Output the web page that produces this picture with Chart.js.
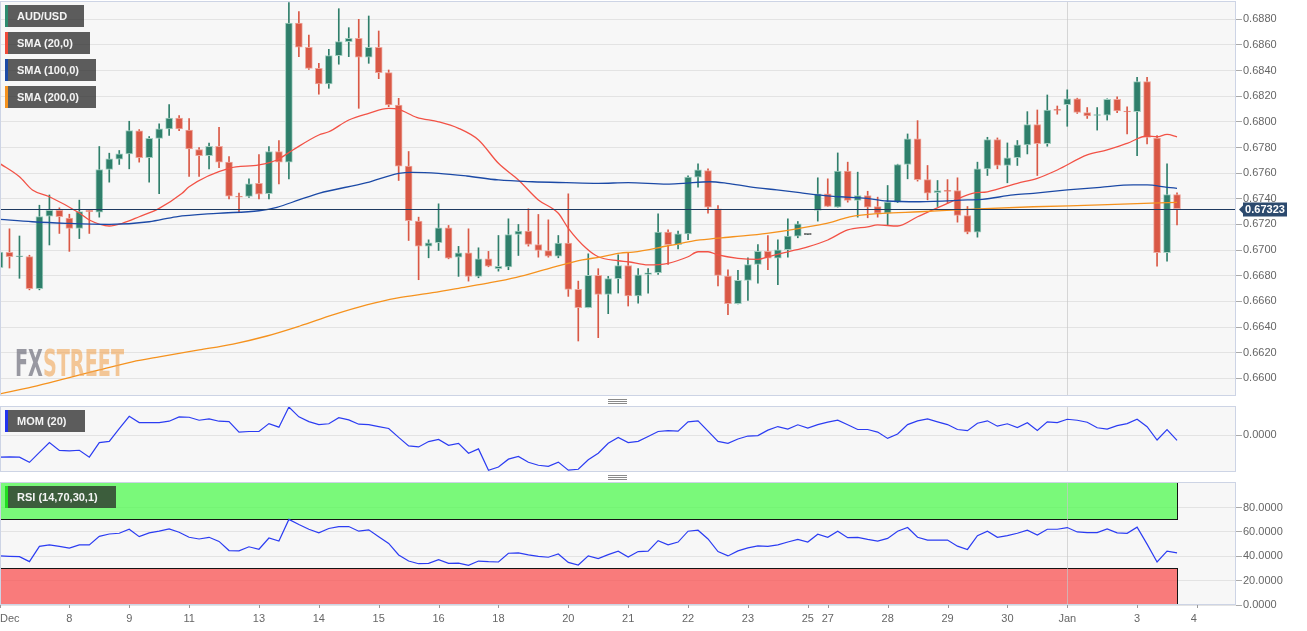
<!DOCTYPE html>
<html lang="en">
<head>
<meta charset="utf-8">
<title>AUD/USD</title>
<script src="https://cdn.jsdelivr.net/npm/chart.js@4.4.1/dist/chart.umd.min.js"></script>
<style>
  html, body { margin: 0; padding: 0; background: #fff; }
  body { position: relative; width: 1307px; height: 631px; overflow: hidden; font-family: "Liberation Sans", Arial, sans-serif; }
  canvas { position: absolute; left: 0; }
  #main { top: 0; }
  #mom { top: 400px; }
  #rsi { top: 476px; }
  .tag { position: absolute; left: 5px; height: 22px; line-height: 22px; box-sizing: border-box;
         padding-left: 9px; border-left: 3px solid; background: rgba(40,40,40,0.75);
         color: #f4f4f4; font-size: 11px; font-weight: bold; white-space: nowrap; pointer-events: none; }
  .grip { position: absolute; left: 608px; width: 19px; height: 5px;
          background: repeating-linear-gradient(#8a8a8a 0 1px, transparent 1px 2px); }
  #wm { position: absolute; left: 15px; top: 345px; font: bold 37px "Liberation Sans Narrow", "DejaVu Sans Condensed", sans-serif;
        line-height: 1; white-space: nowrap; transform-origin: 0 0; pointer-events: none; }
  #wm .fx { color: rgba(120,120,132,0.75); }
  #wm .st { color: rgba(240,165,85,0.6); }
</style>
</head>
<body>
<canvas id="main" width="1307" height="400"></canvas>
<canvas id="mom" width="1307" height="76"></canvas>
<canvas id="rsi" width="1307" height="155"></canvas>
<div class="grip" style="top:399px"></div>
<div class="grip" style="top:475px"></div>
<div id="wm"><span class="fx">FX</span><span class="st">STREET</span></div>
<div class="tag" style="top:5px;width:79px;border-color:#2e8b6e">AUD/USD</div>
<div class="tag" style="top:32px;width:85px;border-color:#f04a3a">SMA (20,0)</div>
<div class="tag" style="top:59px;width:91px;border-color:#1c4aa6">SMA (100,0)</div>
<div class="tag" style="top:86px;width:91px;border-color:#f5921e">SMA (200,0)</div>
<div class="tag" style="top:410px;width:80px;border-color:#2233ee">MOM (20)</div>
<div class="tag" style="top:486px;width:111px;border-color:#22dd22">RSI (14,70,30,1)</div>

<script>
// 4h candles, index 0..118
const opens = [
  0.66862, 0.66982, 0.66948, 0.66950, 0.66700, 0.67265, 0.67310, 0.67250, 0.67170, 0.67310,
  0.67296, 0.67629, 0.67710, 0.67750, 0.67930, 0.67720, 0.67872, 0.67945, 0.68030, 0.67937,
  0.67784, 0.67737, 0.67810, 0.67686, 0.67420, 0.67418, 0.67520, 0.67440, 0.67769, 0.67686,
  0.68770, 0.68582, 0.68418, 0.68296, 0.68517, 0.68626, 0.68652, 0.68504, 0.68582, 0.68384,
  0.68132, 0.67655, 0.67226, 0.67030, 0.67057, 0.67174, 0.66945, 0.66979, 0.66795, 0.66932,
  0.66855, 0.66868, 0.67122, 0.67148, 0.67044, 0.66997, 0.66953, 0.67055, 0.66694, 0.66550,
  0.66803, 0.66655, 0.66777, 0.66880, 0.66642, 0.66810, 0.66823, 0.67140, 0.67042, 0.67127,
  0.67569, 0.67621, 0.67322, 0.66797, 0.66582, 0.66764, 0.66888, 0.66990, 0.66938, 0.67003,
  0.67109, 0.67122, 0.67309, 0.67439, 0.67335, 0.67616, 0.67387, 0.67426, 0.67340, 0.67288,
  0.67374, 0.67668, 0.67868, 0.67550, 0.67448, 0.67462, 0.67465, 0.67270, 0.67140, 0.67634,
  0.67862, 0.67660, 0.67720, 0.67821, 0.67979, 0.67830, 0.68095, 0.68135, 0.68180, 0.68073,
  0.68050, 0.68053, 0.68177, 0.68081, 0.68079, 0.68314, 0.67873, 0.66979, 0.67434
];
const highs = [
  0.67020, 0.67166, 0.67110, 0.66960, 0.67350, 0.67430, 0.67330, 0.67280, 0.67390, 0.67315,
  0.67808, 0.67756, 0.67777, 0.68005, 0.67940, 0.67886, 0.67984, 0.68135, 0.68050, 0.68025,
  0.67800, 0.67834, 0.67958, 0.67730, 0.67444, 0.67556, 0.67745, 0.67808, 0.67855, 0.68930,
  0.68860, 0.68678, 0.68457, 0.68566, 0.68883, 0.68735, 0.68800, 0.68826, 0.68709, 0.68405,
  0.68184, 0.67769, 0.67257, 0.67080, 0.67361, 0.67192, 0.67029, 0.67166, 0.67018, 0.66990,
  0.67114, 0.67244, 0.67200, 0.67322, 0.67278, 0.67236, 0.67114, 0.67439, 0.66758, 0.66971,
  0.66855, 0.66795, 0.66963, 0.66979, 0.66855, 0.66855, 0.67283, 0.67158, 0.67148, 0.67580,
  0.67673, 0.67634, 0.67348, 0.66847, 0.66842, 0.66940, 0.67044, 0.67114, 0.67080, 0.67244,
  0.67223, 0.67122, 0.67564, 0.67556, 0.67758, 0.67686, 0.67608, 0.67459, 0.67413, 0.67504,
  0.67670, 0.67906, 0.68010, 0.67660, 0.67543, 0.67550, 0.67564, 0.67340, 0.67686, 0.67880,
  0.67875, 0.67836, 0.67855, 0.68080, 0.68093, 0.68210, 0.68124, 0.68250, 0.68185, 0.68112,
  0.68112, 0.68180, 0.68195, 0.68117, 0.68348, 0.68348, 0.67893, 0.67673, 0.67447
];
const lows = [
  0.66830, 0.66860, 0.66780, 0.66690, 0.66690, 0.67040, 0.67130, 0.66990, 0.67090, 0.67130,
  0.67257, 0.67530, 0.67668, 0.67634, 0.67686, 0.67530, 0.67440, 0.67894, 0.67932, 0.67574,
  0.67574, 0.67634, 0.67642, 0.67400, 0.67300, 0.67410, 0.67400, 0.67400, 0.67517, 0.67556,
  0.68509, 0.68410, 0.68216, 0.68262, 0.68450, 0.68509, 0.68106, 0.68457, 0.68337, 0.68119,
  0.67543, 0.67075, 0.66769, 0.66940, 0.66997, 0.66932, 0.66795, 0.66758, 0.66784, 0.66870,
  0.66836, 0.66847, 0.66958, 0.67031, 0.66945, 0.66945, 0.66940, 0.66639, 0.66291, 0.66550,
  0.66317, 0.66504, 0.66665, 0.66564, 0.66587, 0.66665, 0.66810, 0.66888, 0.67010, 0.67081,
  0.67491, 0.67288, 0.66720, 0.66496, 0.66580, 0.66608, 0.66743, 0.66847, 0.66730, 0.66945,
  0.67096, 0.67122, 0.67226, 0.67340, 0.67335, 0.67374, 0.67257, 0.67252, 0.67257, 0.67192,
  0.67370, 0.67556, 0.67538, 0.67392, 0.67340, 0.67366, 0.67218, 0.67127, 0.67101, 0.67582,
  0.67634, 0.67525, 0.67660, 0.67750, 0.67582, 0.67810, 0.68060, 0.67966, 0.68066, 0.68027,
  0.67936, 0.68014, 0.68071, 0.67906, 0.67737, 0.67829, 0.66875, 0.66914, 0.67197
];
const closes = [
  0.66984, 0.66948, 0.66952, 0.66700, 0.67262, 0.67310, 0.67260, 0.67170, 0.67300, 0.67300,
  0.67629, 0.67712, 0.67750, 0.67932, 0.67720, 0.67872, 0.67945, 0.68030, 0.67945, 0.67790,
  0.67737, 0.67810, 0.67686, 0.67420, 0.67412, 0.67517, 0.67436, 0.67769, 0.67686, 0.68770,
  0.68582, 0.68418, 0.68296, 0.68517, 0.68626, 0.68652, 0.68504, 0.68582, 0.68384, 0.68132,
  0.67655, 0.67230, 0.67031, 0.67057, 0.67174, 0.66938, 0.66979, 0.66795, 0.66932, 0.66875,
  0.66873, 0.67122, 0.67148, 0.67044, 0.66997, 0.66953, 0.67055, 0.66694, 0.66550, 0.66803,
  0.66655, 0.66777, 0.66880, 0.66642, 0.66808, 0.66823, 0.67140, 0.67042, 0.67127, 0.67569,
  0.67626, 0.67335, 0.66803, 0.66582, 0.66764, 0.66888, 0.66990, 0.66938, 0.67003, 0.67109,
  0.67205, 0.67122, 0.67439, 0.67340, 0.67616, 0.67387, 0.67426, 0.67335, 0.67288, 0.67374,
  0.67668, 0.67868, 0.67550, 0.67444, 0.67465, 0.67458, 0.67270, 0.67140, 0.67634, 0.67862,
  0.67660, 0.67720, 0.67821, 0.67979, 0.67830, 0.68093, 0.68090, 0.68180, 0.68073, 0.68047,
  0.68055, 0.68177, 0.68086, 0.68077, 0.68314, 0.67878, 0.66979, 0.67434, 0.67323
];

// moving averages (x = candle index)
const sma20X = [0, 2, 3.3, 5, 8, 9, 11, 12.3, 14, 16, 18.3, 19, 23, 26, 27.8, 29.4, 32, 33, 35, 37,
  39, 40, 41.8, 44, 46, 48, 50, 52, 54, 56, 57, 58.8, 60, 62, 63, 65, 67, 69, 70, 71,
  72, 74, 76, 77, 79, 81, 83, 85, 87, 88, 90, 92, 95, 97.5, 99, 102, 104, 106, 109, 111,
  113, 115, 116, 117, 118];
const sma20Y = [0.67677, 0.67572, 0.67469, 0.67416, 0.67289, 0.67235, 0.67188, 0.67209, 0.67260, 0.67326,
  0.67443, 0.67494, 0.67638, 0.67664, 0.67703, 0.67781, 0.67898, 0.67923, 0.68015, 0.68067,
  0.68106, 0.68098, 0.68036, 0.68001, 0.67950, 0.67859, 0.67677, 0.67547, 0.67391, 0.67287,
  0.67170, 0.67014, 0.66948, 0.66917, 0.66909, 0.66884, 0.66897, 0.66948, 0.66987, 0.66987,
  0.66962, 0.66936, 0.66928, 0.66948, 0.66987, 0.67026, 0.67079, 0.67157, 0.67182, 0.67196,
  0.67188, 0.67260, 0.67365, 0.67443, 0.67455, 0.67521, 0.67560, 0.67625, 0.67742, 0.67781,
  0.67833, 0.67890, 0.67884, 0.67903, 0.67884];
const sma100X = [0, 3.3, 6.7, 11, 15, 17.7, 21.8, 26, 27.8, 30, 32, 36.8, 40, 41.4, 44, 46.8, 50, 53.4, 56.8, 60,
  63, 66.9, 68.5, 71.2, 72.9, 75.2, 77.9, 80.2, 81.9, 84.2, 86.9, 88.9, 92.2, 97, 98.5, 101.6, 103.6, 107, 110.3, 113.6,
  115, 117, 118];
const sma100Y = [0.67240, 0.67221, 0.67209, 0.67201, 0.67221, 0.67260, 0.67287, 0.67307, 0.67334, 0.67391,
  0.67443, 0.67526, 0.67599, 0.67607, 0.67599, 0.67578, 0.67547, 0.67533, 0.67526, 0.67521,
  0.67526, 0.67515, 0.67521, 0.67533, 0.67521, 0.67494, 0.67469, 0.67448, 0.67430, 0.67416,
  0.67404, 0.67383, 0.67377, 0.67391, 0.67396, 0.67430, 0.67443, 0.67469, 0.67490, 0.67508,
  0.67508, 0.67490, 0.67482];
const sma200X = [0, 3.3, 6.7, 10, 13.3, 16, 20, 23.4, 26.8, 30.1, 33.4, 36.8, 39.8, 43.4, 46.8, 48.8, 51.8, 55.1, 58.4, 60.2,
  62.2, 63.5, 66.9, 70.2, 73.5, 76.9, 80.2, 83.5, 85.2, 88.5, 92.2, 96.9, 103.6, 110.3, 118];
const sma200Y = [0.65878, 0.65934, 0.66000, 0.66065, 0.66129, 0.66168, 0.66221, 0.66267, 0.66330, 0.66408,
  0.66494, 0.66572, 0.66626, 0.66668, 0.66714, 0.66741, 0.66788, 0.66858, 0.66923, 0.66946,
  0.66977, 0.66985, 0.67032, 0.67079, 0.67104, 0.67131, 0.67170, 0.67221, 0.67260, 0.67287,
  0.67299, 0.67318, 0.67338, 0.67352, 0.67373];

// momentum (20) and RSI (14), one value per candle
const mom = [
  -0.0112, -0.0110, -0.0112, -0.0138, -0.0088, -0.0038, -0.0078, -0.0080, -0.0077, -0.0112,
  -0.0038, -0.0032, 0.0032, 0.0095, 0.0063, 0.0063, 0.0063, 0.0070, 0.0092, 0.0090,
  0.0075, 0.0082, 0.0070, 0.0068, 0.0015, 0.0018, 0.0018, 0.0058, 0.0040, 0.0142,
  0.0092, 0.0068, 0.0053, 0.0057, 0.0088, 0.0077, 0.0055, 0.0053, 0.0043, 0.0033,
  -0.0012, -0.0055, -0.0060, -0.0033, -0.0022, -0.0052, -0.0042, -0.0092, -0.0070, -0.0178,
  -0.0162, -0.0122, -0.0108, -0.0138, -0.0153, -0.0158, -0.0137, -0.0178, -0.0173, -0.0125,
  -0.0092, -0.0042, -0.0012, -0.0038, -0.0032, -0.0007, 0.0018, 0.0022, 0.0020, 0.0067,
  0.0072, 0.0020, -0.0032, -0.0042, -0.0020, -0.0005, -0.0003, 0.0025, 0.0043, 0.0030,
  0.0052, 0.0035, 0.0053, 0.0065, 0.0075, 0.0052, 0.0028, 0.0028, 0.0015, -0.0017,
  0.0005, 0.0053, 0.0072, 0.0082, 0.0067, 0.0053, 0.0028, 0.0022, 0.0060, 0.0072,
  0.0045, 0.0057, 0.0038, 0.0062, 0.0023, 0.0067, 0.0063, 0.0080, 0.0075, 0.0065,
  0.0037, 0.0030, 0.0048, 0.0058, 0.0080, 0.0042, -0.0025, 0.0028, -0.0027
];
const rsi = [
  40.3, 40.0, 39.7, 35.6, 48.1, 49.4, 48.1, 46.7, 49.4, 49.4,
  56.4, 58.3, 58.9, 62.2, 56.1, 59.2, 60.6, 62.5, 59.7, 55.6,
  54.2, 55.6, 52.2, 44.7, 44.4, 47.8, 45.8, 55.0, 52.5, 70.3,
  66.1, 62.2, 59.2, 62.8, 64.4, 64.4, 60.6, 61.7, 56.1, 50.6,
  41.1, 36.1, 33.9, 34.2, 37.2, 34.2, 34.4, 32.5, 36.1, 35.6,
  35.3, 42.5, 42.8, 41.1, 40.0, 39.2, 41.9, 35.0, 32.8, 40.3,
  38.1, 41.4, 44.2, 39.4, 43.9, 44.2, 52.8, 49.4, 51.7, 60.6,
  61.4, 54.2, 43.9, 40.3, 44.4, 46.9, 48.6, 48.1, 49.4, 51.7,
  53.9, 51.7, 58.1, 55.6, 60.6, 55.3, 55.6, 53.9, 52.5, 54.7,
  60.6, 63.6, 55.6, 53.3, 53.3, 53.3, 48.3, 45.6, 56.9, 60.6,
  55.6, 56.9, 58.9, 61.4, 57.5, 62.2, 62.2, 63.6, 60.0, 59.4,
  59.4, 62.5, 59.2, 58.9, 63.9, 50.0, 35.3, 44.2, 42.8
];
const rsiHigh = 70, rsiLow = 30;

// axis ticks
const tickIndex = [0.05, 7, 13, 19, 26, 32, 38, 44, 50, 57, 63, 69, 75, 81, 83, 89, 95, 101, 107, 114, 120];
const tickLabels = ['Dec', '8', '9', '11', '13', '14', '15', '16', '18', '20', '21', '22', '23', '25', '27', '28', '29', '30', 'Jan', '3', '4'];
const priceTicks = [0.6600, 0.6620, 0.6640, 0.6660, 0.6680, 0.6700, 0.6720, 0.6740, 0.6760, 0.6780, 0.6800, 0.6820, 0.6840, 0.6860, 0.6880];
const momTicks = [0];
const rsiTicks = [0, 20, 40, 60, 80];

const FONT = '"Liberation Sans", Arial, sans-serif';
const X_MIN = 0.05, X_MAX = 123.91;
const GREEN = '#2f7f6b', GREEN_EDGE = '#a3cfc1';
const RED = '#d95845', RED_EDGE = '#eea79d';
const janIndex = tickIndex[tickLabels.indexOf('Jan')];
const lastClose = closes[closes.length - 1];

function xAxis(show) {
  return {
    type: 'linear', position: 'bottom', min: X_MIN, max: X_MAX, offset: false, display: show,
    afterBuildTicks: s => { s.ticks = tickIndex.map(v => ({ value: v })); },
    afterFit: s => { s.height = show ? 26 : 0; s.paddingLeft = 0; s.paddingRight = 0; },
    grid: { drawOnChartArea: false, tickLength: 7, tickColor: 'rgba(0,0,0,0)' },
    border: { display: false },
    ticks: { autoSkip: false, maxRotation: 0, align: 'inner', padding: 0, color: '#666',
             font: { size: 11, family: FONT }, callback: (v, i) => tickLabels[i] }
  };
}

function yAxis(min, max, ticks, fmt) {
  return {
    type: 'linear', position: 'right', min: min, max: max,
    afterBuildTicks: s => { s.ticks = ticks.map(v => ({ value: v })); },
    afterFit: s => { s.width = 71; s.paddingTop = 0; s.paddingBottom = 0; },
    grid: { color: '#e3e3e3', tickLength: 6, tickColor: '#aaa' },
    border: { display: false },
    ticks: { autoSkip: false, padding: 1, color: '#666', font: { size: 11, family: FONT }, callback: fmt }
  };
}

// pane background, rsi zones, Jan line, price marker and frame
function paneDeco(opt) {
  return {
    id: 'paneDeco',
    beforeDraw(chart) {
      const { ctx, chartArea: a } = chart;
      ctx.save();
      ctx.fillStyle = '#f7f7f7';
      ctx.fillRect(a.left, a.top, a.right - a.left, a.bottom - a.top);
      ctx.restore();
    },
    beforeDatasetsDraw(chart) {
      const { ctx, chartArea: a, scales } = chart;
      ctx.save();
      ctx.beginPath();
      ctx.rect(a.left, a.top, a.right - a.left, a.bottom - a.top);
      ctx.clip();
      (opt.zones || []).forEach(z => {
        const x0 = Math.round(scales.x.getPixelForValue(z.from));
        const x1 = Math.round(scales.x.getPixelForValue(z.to));
        const y0 = Math.round(scales.y.getPixelForValue(z.hi));
        const y1 = Math.round(scales.y.getPixelForValue(z.lo));
        ctx.fillStyle = z.color;
        ctx.fillRect(x0, y0, x1 - x0, y1 - y0);
        ctx.strokeStyle = '#151515';
        ctx.lineWidth = 1;
        ctx.strokeRect(x0 + 0.5, y0 + 0.5, x1 - x0, y1 - y0 - 1);
      });
      const jx = Math.round(scales.x.getPixelForValue(janIndex)) + 0.5;
      ctx.strokeStyle = 'rgba(200,200,200,0.7)';
      ctx.lineWidth = 1;
      ctx.beginPath();
      ctx.moveTo(jx, a.top);
      ctx.lineTo(jx, a.bottom);
      ctx.stroke();
      ctx.restore();
    },
    afterDatasetsDraw(chart) {
      if (opt.price === undefined) return;
      const { ctx, chartArea: a, scales } = chart;
      const y = Math.round(scales.y.getPixelForValue(opt.price)) + 0.5;
      ctx.save();
      ctx.strokeStyle = '#1e3a60';
      ctx.lineWidth = 1;
      ctx.beginPath();
      ctx.moveTo(a.left, y);
      ctx.lineTo(a.right, y);
      ctx.stroke();
      const r = a.right;
      ctx.fillStyle = '#2c4a6e';
      ctx.beginPath();
      ctx.moveTo(r + 3, y);
      ctx.lineTo(r + 7, y - 4);
      ctx.lineTo(r + 7, y - 7);
      ctx.lineTo(r + 51, y - 7);
      ctx.lineTo(r + 51, y + 7);
      ctx.lineTo(r + 7, y + 7);
      ctx.lineTo(r + 7, y + 4);
      ctx.closePath();
      ctx.fill();
      ctx.fillStyle = '#fff';
      ctx.font = 'bold 11px ' + FONT;
      ctx.textAlign = 'center';
      ctx.textBaseline = 'middle';
      ctx.fillText(opt.price.toFixed(5), r + 29, y + 0.5);
      ctx.restore();
    },
    afterDraw(chart) {
      const { ctx, chartArea: a, scales } = chart;
      ctx.save();
      ctx.strokeStyle = '#cdd4e5';
      ctx.lineWidth = 1;
      ctx.strokeRect(a.left + 0.5, a.top + 0.5, a.right - a.left - 1, a.bottom - a.top - 1);
      if (opt.xTicks) {
        ctx.strokeStyle = '#999';
        scales.x.ticks.forEach(t => {
          const x = Math.round(scales.x.getPixelForValue(t.value)) + 0.5;
          ctx.beginPath();
          ctx.moveTo(x, a.bottom);
          ctx.lineTo(x, a.bottom + 3);
          ctx.stroke();
        });
      }
      ctx.restore();
    }
  };
}

const common = {
  responsive: false,
  animation: false,
  devicePixelRatio: 1,
  events: [],
  plugins: { legend: { display: false }, tooltip: { enabled: false } }
};

// price pane
const bodyFill = closes.map((c, i) => c > opens[i] ? GREEN : (c < opens[i] ? RED : '#222'));
const bodyEdge = closes.map((c, i) => c > opens[i] ? GREEN_EDGE : (c < opens[i] ? RED_EDGE : '#222'));
const wickFill = closes.map((c, i) => c >= opens[i] ? GREEN : RED);

function smaLine(xs, ys, color) {
  return {
    type: 'line', data: xs.map((x, i) => ({ x: x, y: ys[i] })),
    borderColor: color, borderWidth: 1.3, pointRadius: 0, cubicInterpolationMode: 'monotone', order: 0
  };
}

new Chart(document.getElementById('main'), {
  type: 'bar',
  data: {
    datasets: [
      smaLine(sma200X, sma200Y, '#f5921e'),
      smaLine(sma100X, sma100Y, '#1c4aa6'),
      smaLine(sma20X, sma20Y, '#f25246'),
      {
        type: 'bar', data: closes.map((c, i) => ({ x: i, y: [opens[i], c] })),
        backgroundColor: bodyFill, borderColor: bodyEdge, borderWidth: 1, borderSkipped: false,
        barThickness: 7, minBarLength: 1, grouped: false, order: 1
      },
      {
        type: 'bar', data: closes.map((c, i) => ({ x: i, y: [lows[i], highs[i]] })),
        backgroundColor: wickFill, borderWidth: 0, barThickness: 1, grouped: false, order: 2
      }
    ]
  },
  options: Object.assign({}, common, {
    layout: { padding: { top: 1, bottom: 4, left: 0, right: 0 } },
    scales: {
      x: xAxis(false),
      y: yAxis(0.65862, 0.68943, priceTicks, v => v.toFixed(4))
    }
  }),
  plugins: [paneDeco({ price: lastClose })]
});

// momentum pane
new Chart(document.getElementById('mom'), {
  type: 'line',
  data: {
    datasets: [{
      data: mom.map((v, i) => ({ x: i, y: v })),
      borderColor: '#2b3cf2', borderWidth: 1.2, pointRadius: 0, tension: 0
    }]
  },
  options: Object.assign({}, common, {
    layout: { padding: { top: 6, bottom: 4, left: 0, right: 0 } },
    scales: {
      x: xAxis(false),
      y: yAxis(-0.0187, 0.0147, momTicks, v => v.toFixed(4))
    }
  }),
  plugins: [paneDeco({})]
});

// rsi pane with the date axis
new Chart(document.getElementById('rsi'), {
  type: 'line',
  data: {
    datasets: [{
      data: rsi.map((v, i) => ({ x: i, y: v })),
      borderColor: '#2b3cf2', borderWidth: 1.2, pointRadius: 0, tension: 0
    }]
  },
  options: Object.assign({}, common, {
    layout: { padding: { top: 6, bottom: 0, left: 0, right: 0 } },
    scales: {
      x: xAxis(true),
      y: yAxis(0, 101, rsiTicks, v => v.toFixed(4))
    }
  }),
  plugins: [paneDeco({
    xTicks: true,
    zones: [
      { from: X_MIN, to: rsi.length - 1, lo: rsiHigh, hi: 101, color: 'rgba(80,250,80,0.75)' },
      { from: X_MIN, to: rsi.length - 1, lo: 0, hi: rsiLow, color: 'rgba(250,82,82,0.75)' }
    ]
  })]
});

// squeeze the watermark to its width in the reference
const wm = document.getElementById('wm');
wm.style.transform = 'scaleX(' + (109 / wm.getBoundingClientRect().width) + ')';
</script>
</body>
</html>
